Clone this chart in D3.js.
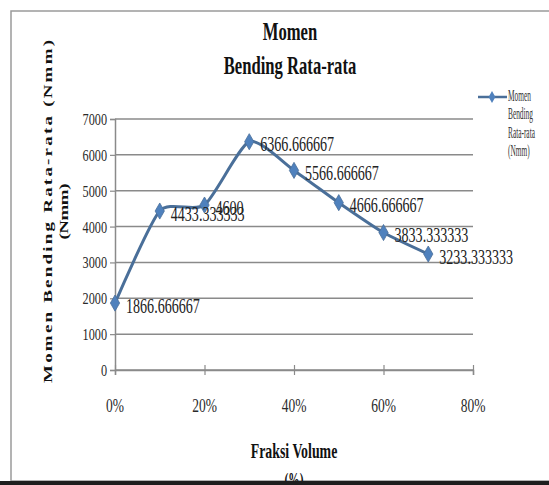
<!DOCTYPE html>
<html>
<head>
<meta charset="utf-8">
<script src="https://cdn.jsdelivr.net/npm/d3@7"></script>
<style>
  html, body { margin: 0; padding: 0; background: #fff; }
  svg { display: block; }
  text { font-family: "Liberation Serif", "Times New Roman", serif; }
</style>
</head>
<body>
<script>
// Average bending moment per fibre volume fraction
const volumeFractions = [0, 0.1, 0.2, 0.3, 0.4, 0.5, 0.6, 0.7];
const bendingMoment = [1866.666667, 4433.333333, 4600, 6366.666667, 5566.666667, 4666.666667, 3833.333333, 3233.333333];
const yTicks = [0, 1000, 2000, 3000, 4000, 5000, 6000, 7000];
const xTicks = [0, 0.2, 0.4, 0.6, 0.8];
const titleLines = ["Momen", "Bending Rata-rata"];
const yTitleLines = ["Momen Bending Rata-rata (Nmm)", "(Nmm)"];
const xTitleLines = ["Fraksi Volume", "(%)"];
const legendLines = ["Momen", "Bending", "Rata-rata", "(Nmm)"];

const W = 549, H = 485;
const svg = d3.select("body").append("svg").attr("width", W).attr("height", H);

const x = d3.scaleLinear().domain([0, 0.8]).range([115, 473]);
const y = d3.scaleLinear().domain([0, 7000]).range([370, 119]);

// Narrow-set text helper: draws text at (tx, ty) squeezed horizontally
function label(g, t, tx, ty, o) {
  const el = g.append("text")
    .attr("transform", `translate(${tx},${ty}) ${o.rotate ? "rotate(" + o.rotate + ")" : ""} scale(${o.sx || 1},${o.sy || 1})`)
    .attr("font-size", o.size)
    .attr("font-weight", o.weight || "normal")
    .attr("text-anchor", o.anchor || "start")
    .attr("fill", o.fill || "#1a1a1a")
    .text(t);
  if (o.length) el.attr("textLength", o.length).attr("lengthAdjust", "spacing");
  return el;
}

// Chart frame
svg.append("rect").attr("x", 11).attr("y", 11).attr("width", W).attr("height", 470)
  .attr("fill", "#fff").attr("stroke", "#9a9a9a").attr("stroke-width", 1.5);

// Gridlines
const grid = svg.append("g");
grid.selectAll("line").data(yTicks).join("line")
  .attr("x1", x(0)).attr("x2", x(0.8))
  .attr("y1", d => y(d)).attr("y2", d => y(d))
  .attr("stroke", "#8a8a8a").attr("stroke-width", 1.5);

// Axes
const yAxis = svg.append("g").attr("transform", `translate(${x(0)},0)`)
  .call(d3.axisLeft(y).tickValues(yTicks).tickSize(5).tickFormat(""));
const xAxis = svg.append("g").attr("transform", `translate(0,${y(0)})`)
  .call(d3.axisBottom(x).tickValues(xTicks).tickSize(5).tickFormat(""));
[yAxis, xAxis].forEach(a => {
  a.select(".domain").attr("stroke", "#8a8a8a").attr("stroke-width", 1.5);
  a.selectAll(".tick line").attr("stroke", "#8a8a8a").attr("stroke-width", 1.2);
});
xAxis.selectAll(".tick line").attr("y1", -5);

// Tick labels
const tl = svg.append("g");
yTicks.forEach(v => label(tl, String(v), 107, y(v) + 6, { size: 17, sx: 0.72, anchor: "end", fill: "#2a2a2a" }));
const pct = d3.format(".0%");
xTicks.forEach(v => label(tl, pct(v), x(v), 412, { size: 18, sx: 0.75, anchor: "middle", fill: "#2a2a2a" }));

// Titles
const tt = svg.append("g");
label(tt, titleLines[0], 290, 39.5, { size: 26, weight: "bold", sx: 0.64, anchor: "middle", fill: "#111" });
label(tt, titleLines[1], 290, 73.5, { size: 26, weight: "bold", sx: 0.64, anchor: "middle", fill: "#111" });
label(tt, xTitleLines[0], 294, 458, { size: 22, weight: "bold", sx: 0.63, anchor: "middle", fill: "#111" });
label(tt, xTitleLines[1], 294, 486, { size: 18, weight: "bold", sx: 0.63, anchor: "middle", fill: "#111" });
label(tt, yTitleLines[0], 52, 211.5, { size: 19, weight: "bold", rotate: -90, sy: 0.62, anchor: "middle", length: 343, fill: "#111" });
label(tt, yTitleLines[1], 68, 211.5, { size: 19, weight: "bold", rotate: -90, sy: 0.62, anchor: "middle", length: 56, fill: "#111" });

// Dark bottom edge of the frame
svg.append("rect").attr("x", 0).attr("y", 481).attr("width", W).attr("height", 4).attr("fill", "#1e1e1e");

// Series line (smoothed)
const pts = volumeFractions.map((f, i) => [f, bendingMoment[i]]);
const line = d3.line().x(d => x(d[0])).y(d => y(d[1])).curve(d3.curveCardinal.tension(0.35));
svg.append("path").datum(pts).attr("d", line)
  .attr("fill", "none").attr("stroke", "#4a6f99").attr("stroke-width", 3).attr("stroke-linejoin", "round");

// Markers
svg.append("g").selectAll("path").data(pts).join("path")
  .attr("transform", d => `translate(${x(d[0])},${y(d[1])})`)
  .attr("d", d3.symbol(d3.symbolDiamond, 75))
  .attr("fill", "#4f81bd").attr("stroke", "#4a6f99").attr("stroke-width", 0.8);

// Value labels, right of each point
const vl = svg.append("g");
pts.forEach(d => label(vl, String(d[1]), x(d[0]) + 11, y(d[1]) + 9.5, { size: 22, sx: 0.64, fill: "#222" }));

// Legend
const lg = svg.append("g");
lg.append("line").attr("x1", 478).attr("x2", 507).attr("y1", 97).attr("y2", 97)
  .attr("stroke", "#4a6f99").attr("stroke-width", 2.5);
lg.append("path").attr("transform", "translate(492,97)")
  .attr("d", d3.symbol(d3.symbolDiamond, 40)).attr("fill", "#4f81bd");
legendLines.forEach((t, i) => label(lg, t, 508, 101 + i * 18.3, { size: 16, sx: 0.46, fill: "#333" }));
</script>
</body>
</html>
